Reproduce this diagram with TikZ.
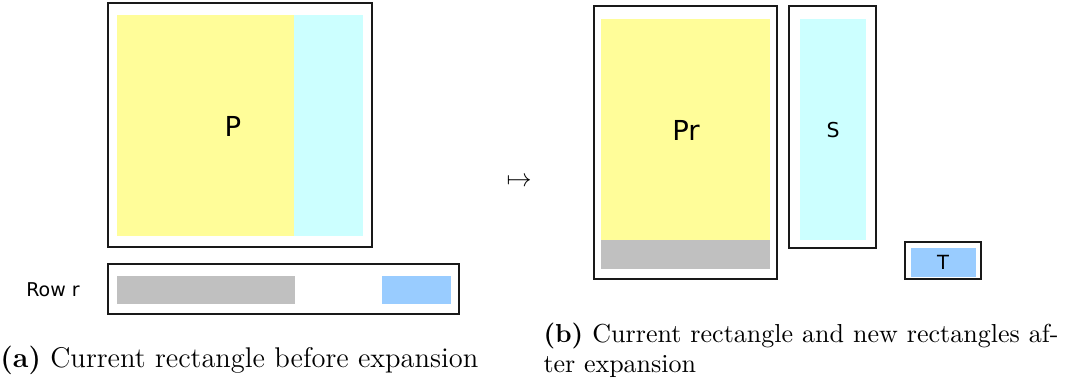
\documentclass[tikz,border=0pt]{standalone}
\usepackage{fontspec}
\usepackage{amsmath}
\usepackage{xcolor}
\usetikzlibrary{positioning}
\newfontfamily\figsans{DejaVu Sans}
\definecolor{pyellow}{RGB}{255, 253, 153}
\definecolor{scyan}{RGB}{204, 255, 255}
\definecolor{rgray}{RGB}{192, 192, 192}
\definecolor{tblue}{RGB}{153, 204, 255}

\begin{document}
\begin{tikzpicture}[
    x=0.4pt, y=-0.4pt,
    frame/.style={draw=black!90, line width=0.8pt},
    label/.style={font=\figsans, inner sep=0pt},
    capt/.style={anchor=base west, inner sep=0pt}
]
\useasboundingbox (0,0) rectangle (1072,385);

% Current rectangle
\draw[frame] (108,3) rectangle (372,247);
\fill[pyellow] (117,15) rectangle (294,236);
\fill[scyan] (294,15) rectangle (363,236);
\node[label, font=\figsans\fontsize{11}{13}\selectfont] (p) at (233,126) {P};

% Row r
\draw[frame] (108,264) rectangle (459,314);
\fill[rgray] (117,276) rectangle (295,304);
\fill[tblue] (382,276) rectangle (451,304);
\node[label, font=\figsans\fontsize{7.6}{9}\selectfont] (rowr) at (53,290) {Row r};

\node[capt, font=\fontsize{11.4}{13}\selectfont] (capa) at (0,367) {\textbf{(a)} Current rectangle before expansion};

% Mapping
\node[inner sep=0pt, font=\fontsize{10.4}{12}\selectfont] (map) at (519,182) {$\mapsto$};

% New rectangles
\draw[frame] (594,6) rectangle (777,279);
\fill[pyellow] (601,19) rectangle (770,240);
\fill[rgray] (601,240) rectangle (770,269);
\node[label, font=\figsans\fontsize{11}{13}\selectfont] (pr) at (686,130) {Pr};

\draw[frame] (789,6) rectangle (876,248);
\fill[scyan] (800,19) rectangle (866,240);
\node[label, font=\figsans\fontsize{8.2}{10}\selectfont] (s) at (833,130) {S};

\draw[frame] (905,242) rectangle (981,279);
\fill[tblue] (911,248) rectangle (976,277);
\node[label, font=\figsans\fontsize{7.8}{9}\selectfont] (t) at (943,262) {T};

\node[capt, text width=206pt, align=justify, font=\fontsize{10.4}{12.2}\selectfont] (capb) at (543,342) {\textbf{(b)} Current rectangle and new rectangles af-\break ter expansion};

\end{tikzpicture}
\end{document}
